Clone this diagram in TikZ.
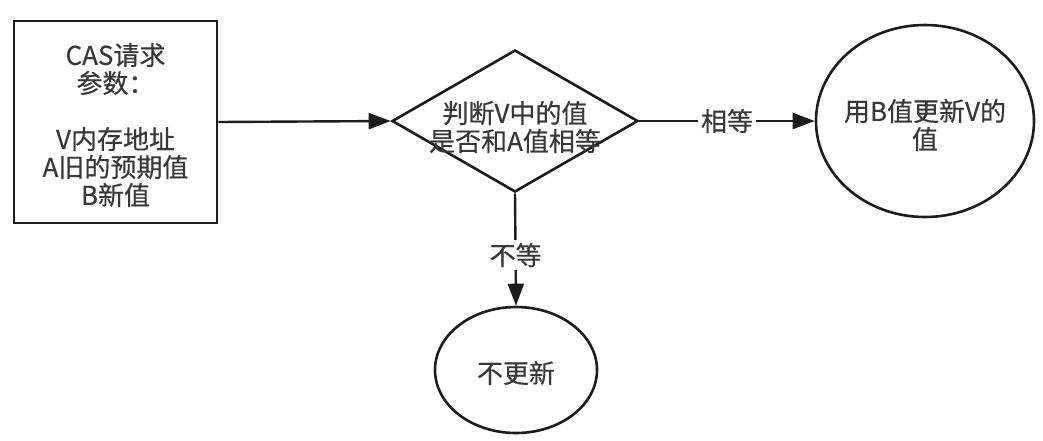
\documentclass[tikz,border=0pt]{standalone}
\usepackage{fontspec}
\setmainfont[FakeBold=0.4]{Noto Sans CJK SC}
\usetikzlibrary{shapes.geometric,arrows.meta}
\definecolor{txt}{HTML}{383838}
\definecolor{ln}{HTML}{1C1C1C}
\tikzset{
  shapeline/.style={draw=ln, line width=2.6pt, inner sep=0pt},
  lbltext/.style={text=txt, font=\fontsize{26}{28}\selectfont, align=center, inner sep=0pt},
  arr/.style={draw=ln, line width=2.4pt, -{Triangle[length=22pt,width=16pt]}},
  edgelbl/.style={lbltext, fill=white, inner sep=3pt}
}
\begin{document}
\begin{tikzpicture}[x=1pt,y=-1pt]
\useasboundingbox (0,0) rectangle (1043,440);
\fill[white] (0,0) rectangle (1043,440);
% input box
\node[shapeline, rectangle, minimum width=203pt, minimum height=202pt] (box) at (115.5,122) {};
\node[lbltext] (boxtxt) at (115.5,125) {CAS请求\\参数：\\[28pt]V内存地址\\A旧的预期值\\B新值};
% decision
\node[shapeline, diamond, minimum width=246pt, minimum height=142pt] (dec) at (515,121) {};
\node[lbltext] (dectxt) at (515,127) {判断V中的值\\是否和A值相等};
% update
\node[shapeline, ellipse, minimum width=218pt, minimum height=192pt] (upd) at (925,121) {};
\node[lbltext] (updtxt) at (925,125) {用B值更新V的\\值};
% no update
\node[shapeline, ellipse, minimum width=162pt, minimum height=126pt] (noupd) at (516,370) {};
\node[lbltext] (noupdtxt) at (516,373) {不更新};
% connectors
\draw[arr] (box.east) -- (dec.west);
\draw[arr] (dec.east) -- node[edgelbl] {相等} (upd.west);
\draw[arr] (dec.south) -- node[edgelbl, pos=0.55] {不等} (noupd.north);
\end{tikzpicture}
\end{document}
